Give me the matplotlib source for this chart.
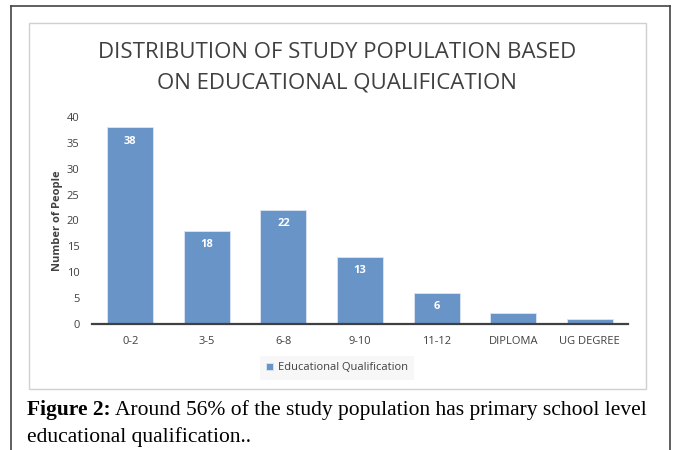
import matplotlib
matplotlib.use("Agg")
import matplotlib.pyplot as plt
from matplotlib.patches import Rectangle

categories = ["0-2", "3-5", "6-8", "9-10", "11-12", "DIPLOMA", "UG DEGREE"]
counts = [38, 18, 22, 13, 6, 2, 1]
labelled = [True, True, True, True, True, False, False]
yticks = [0, 5, 10, 15, 20, 25, 30, 35, 40]

W, H = 673, 450
fig = plt.figure(figsize=(W / 100, H / 100), dpi=100)
fig.patch.set_facecolor("white")

def fx(px):
    return px / W

def fy(py):
    return 1 - py / H

# outer frame (open at the bottom)
fig.add_artist(plt.Line2D([fx(10.5), fx(10.5)], [fy(450), fy(5.5)], color="#444444", lw=1.2))
fig.add_artist(plt.Line2D([fx(10.5), fx(669.5)], [fy(5.5), fy(5.5)], color="#444444", lw=1.2))
fig.add_artist(plt.Line2D([fx(669.5), fx(669.5)], [fy(5.5), fy(450)], color="#444444", lw=1.2))

# chart area frame
fig.add_artist(Rectangle((fx(29), fy(389)), fx(646) - fx(29), fy(23) - fy(389),
                         fill=False, edgecolor="#D0D0D0", lw=1.0))

ax = fig.add_axes([fx(92), fy(323.7), fx(628) - fx(92), fy(117) - fy(323.7)])
x = range(len(categories))
bars = ax.bar(x, counts, width=0.6, color="#6894C8", edgecolor="#DCE6F2", linewidth=0.6)
ax.set_xlim(-0.5, len(categories) - 0.5)
ax.set_ylim(0, 40)
ax.set_yticks(yticks)
ax.set_xticks(list(x))
ax.set_xticklabels(categories)
for s in ["top", "right", "left"]:
    ax.spines[s].set_visible(False)
ax.spines["bottom"].set_color("#404040")
ax.spines["bottom"].set_linewidth(1.6)
ax.tick_params(axis="both", length=0, labelsize=8, colors="#404040")
ax.tick_params(axis="y", pad=9)
ax.tick_params(axis="x", pad=9)
for lab in ax.get_xticklabels() + ax.get_yticklabels():
    lab.set_family("Open Sans")
ax.set_ylabel("Number of People", fontsize=8, fontweight="bold", color="#404040",
              family="Open Sans", labelpad=2.5)

for b, v, show in zip(bars, counts, labelled):
    if show:
        ax.text(b.get_x() + b.get_width() / 2, v - 1.6, str(v), ha="center", va="top",
                color="white", fontsize=8, fontweight="bold", family="Open Sans")

fig.text(fx(337), fy(52), "DISTRIBUTION OF STUDY POPULATION BASED", ha="center", va="center",
         fontsize=16, color="#404040", family="Open Sans")
fig.text(fx(337), fy(83), "ON EDUCATIONAL QUALIFICATION", ha="center", va="center",
         fontsize=16, color="#404040", family="Open Sans")

# legend
leg = ax.legend([bars[0]], ["Educational Qualification"], loc="center",
                bbox_to_anchor=(fx(337), fy(368)), bbox_transform=fig.transFigure,
                frameon=True, fancybox=False, handlelength=0.6, handleheight=0.6,
                handletextpad=0.4, borderpad=0.6, prop={"family": "Open Sans", "size": 8})
leg.get_frame().set_facecolor("#F5F5F5")
leg.get_frame().set_edgecolor("none")
for t in leg.get_texts():
    t.set_color("#404040")

# caption
cap1 = fig.text(fx(27), fy(410), "Figure 2:", ha="left", va="center", fontsize=15.5,
                fontweight="bold", family="Liberation Serif", color="black")
fig.canvas.draw()
bb = cap1.get_window_extent()
fig.text(bb.x1 / W + fx(4), fy(410), "Around 56% of the study population has primary school level",
         ha="left", va="center", fontsize=15.5, family="Liberation Serif", color="black")
fig.text(fx(27), fy(437), "educational qualification..", ha="left", va="center", fontsize=15.5,
         family="Liberation Serif", color="black")

fig.savefig("out.png", dpi=100)
